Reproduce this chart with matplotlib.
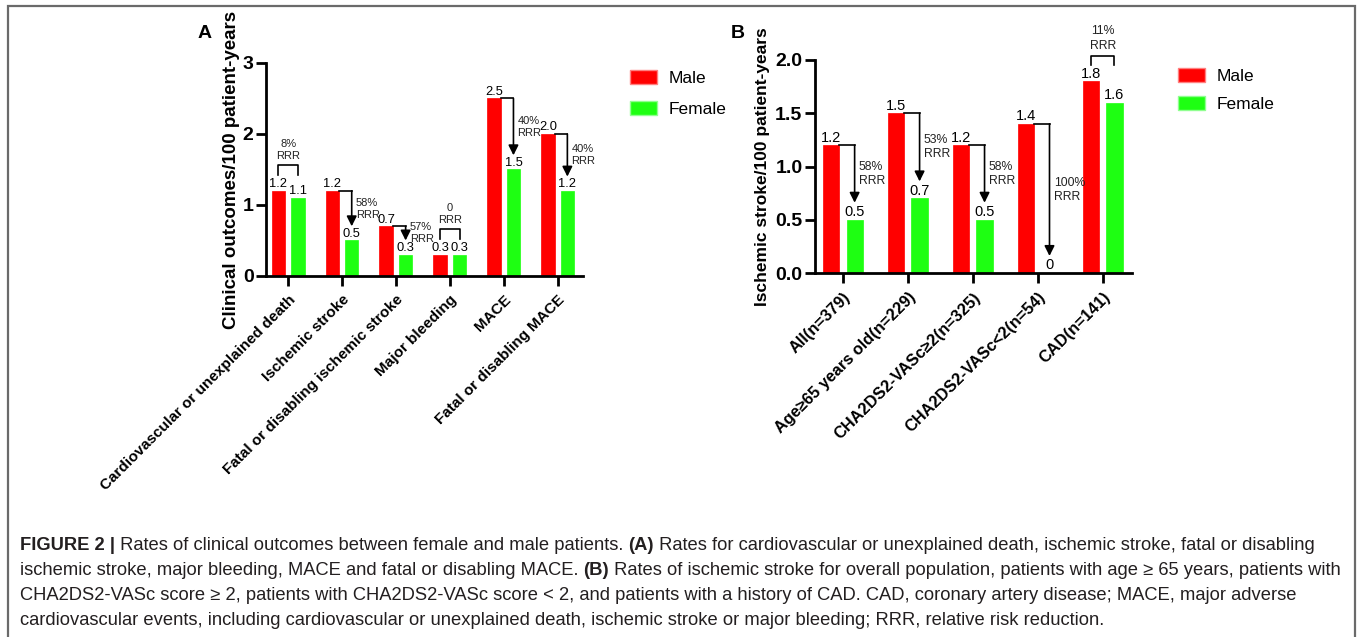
import numpy as np
import matplotlib
matplotlib.use("Agg")
import matplotlib.pyplot as plt
from matplotlib.patches import Rectangle, Patch

plt.rcParams['font.family'] = ['Liberation Sans', 'DejaVu Sans']

# Panel A: clinical outcomes
cats_a = ["Cardiovascular or unexplained death", "Ischemic stroke",
          "Fatal or disabling ischemic stroke", "Major bleeding", "MACE",
          "Fatal or disabling MACE"]
male_a = [1.2, 1.2, 0.7, 0.3, 2.5, 2.0]
female_a = [1.1, 0.5, 0.3, 0.3, 1.5, 1.2]
rrr_a = ["8%", "58%", "57%", "0", "40%", "40%"]
kind_a = ["bracket", "arrow", "arrow", "bracket", "arrow", "arrow"]

# Panel B: ischemic stroke by subgroup
cats_b = ["All(n=379)", "Age≥65 years old(n=229)", "CHA2DS2-VASc≥2(n=325)",
          "CHA2DS2-VASc<2(n=54)", "CAD(n=141)"]
male_b = [1.2, 1.5, 1.2, 1.4, 1.8]
female_b = [0.5, 0.7, 0.5, 0.0, 1.6]
rrr_b = ["58%", "53%", "58%", "100%", "11%"]
kind_b = ["arrow", "arrow", "arrow", "arrow", "bracket"]

RED = "#ff0000"
GREEN = "#1eff12"
W = 1357
H = 637

fig = plt.figure(figsize=(W / 100, H / 100), dpi=100)


def px_axes(x0, x1, ytop, ybot):
    return fig.add_axes([x0 / W, 1 - ybot / H, (x1 - x0) / W, (ybot - ytop) / H])


def fmt(v):
    return "0" if v == 0 else f"{v:.1f}"


def panel(ax, cats, male, female, rrr, kind, ymax, ystep, xlims, vfs, rfs,
          tip_off, br_off, catfs, ylabel, ylfs, ylx):
    x = np.arange(len(cats))
    off_m, off_f, bw = -0.18, 0.18, 0.25
    ax.bar(x + off_m, male, bw, color=RED, edgecolor=RED, lw=0.5, zorder=2)
    ax.bar(x + off_f, female, bw, color=GREEN, edgecolor=GREEN, lw=0.5, zorder=2)
    ax.set_xlim(*xlims)
    ax.set_ylim(0, ymax)
    yt = np.arange(0, ymax + 1e-9, ystep)
    ax.set_yticks(yt)
    if ystep < 1:
        ax.set_yticklabels([f"{t:.1f}" for t in yt])
    for s in ["top", "right"]:
        ax.spines[s].set_visible(False)
    for s in ["left", "bottom"]:
        ax.spines[s].set_linewidth(2)
        ax.spines[s].set_zorder(3)
    ax.tick_params(axis="both", width=2, length=7)
    ax.tick_params(axis="x", pad=5)
    ax.tick_params(axis="y", pad=2, labelsize=14)
    for t in ax.get_yticklabels():
        t.set_fontweight("bold")
    ax.set_xticks(x)
    ax.set_xticklabels(cats, rotation=45, ha="right", va="top",
                       rotation_mode="anchor", fontsize=catfs, fontweight="bold")
    ax.set_ylabel(ylabel, fontsize=ylfs, fontweight="bold")
    ax.yaxis.set_label_coords(ylx, 0.5)

    # value labels
    for i in x:
        for off, v in ((off_m, male[i]), (off_f, female[i])):
            ax.annotate(fmt(v), (i + off, v), xytext=(0, 0.5), textcoords="offset points",
                        ha="center", va="bottom", fontsize=vfs)

    # relative risk reduction marks
    for i in x:
        xm, xf = i + off_m, i + off_f
        if kind[i] == "arrow":
            top = male[i]
            tip = female[i] + tip_off
            ax.plot([xm + bw / 2, xf], [top, top], color="k", lw=1.2, zorder=4,
                    clip_on=False)
            ax.annotate("", xy=(xf, tip), xytext=(xf, top),
                        arrowprops=dict(arrowstyle="-|>", color="k", lw=1.2,
                                        mutation_scale=15, shrinkA=0, shrinkB=0))
            ax.annotate(f"{rrr[i]}\nRRR", (xf, (top + tip) / 2), xytext=(3, 0),
                        textcoords="offset points", ha="left", va="center",
                        fontsize=rfs, linespacing=1.25, color="#222222")
        else:
            hi = max(male[i], female[i])
            leg = hi + br_off[0]
            bar_y = hi + br_off[1]
            ax.plot([xm, xm, xf, xf], [leg, bar_y, bar_y, leg], color="k", lw=1.2,
                    zorder=4, clip_on=False)
            ax.annotate(f"{rrr[i]}\nRRR", ((xm + xf) / 2, bar_y), xytext=(0, 3),
                        textcoords="offset points", ha="center", va="bottom",
                        fontsize=rfs, linespacing=1.25, color="#222222",
                        annotation_clip=False)

    handles = [Patch(facecolor=RED, edgecolor="#ff8080"),
               Patch(facecolor=GREEN, edgecolor="#90ff90")]
    return handles


def add_legend(ax, handles, x_px, y_px, spacing):
    ax.legend(handles, ["Male", "Female"], loc="upper left",
              bbox_to_anchor=(x_px / W, 1 - y_px / H), bbox_transform=fig.transFigure,
              frameon=False, borderpad=0, borderaxespad=0, handlelength=1.55,
              handleheight=0.86, labelspacing=spacing, handletextpad=0.65, fontsize=12.5)


ax_a = px_axes(266, 583, 63, 276)
h = panel(ax_a, cats_a, male_a, female_a, rrr_a, kind_a, 3, 1, (-0.41, 5.47),
          9.3, 8, 0.2, (0.22, 0.36), 11, "Clinical outcomes/100 patient-years",
          13.5, -0.082)
add_legend(ax_a, h, 630, 70, 0.85)

ax_b = px_axes(815, 1132, 60, 273)
h = panel(ax_b, cats_b, male_b, female_b, rrr_b, kind_b, 2.0, 0.5, (-0.43, 4.45),
          10.5, 8.8, 0.16, (0.15, 0.24), 11.8, "Ischemic stroke/100 patient-years",
          12.5, -0.142)
add_legend(ax_b, h, 1178, 68, 0.72)

fig.text(205 / W, 1 - 33 / H, "A", fontsize=14, fontweight="bold", ha="center", va="center")
fig.text(738 / W, 1 - 33 / H, "B", fontsize=14, fontweight="bold", ha="center", va="center")

# outer frame, open at the bottom
fig.add_artist(Rectangle((8 / W, -0.05), (1355 - 8) / W, 1.05 - 6.5 / H,
                         transform=fig.transFigure, fill=False, ec="#6a6a6a", lw=1.6))

# caption, written as runs of bold and regular text placed end to end
cap_lines = [
    [("FIGURE 2 |", "bold"), (" Rates of clinical outcomes between female and male patients. ", "normal"),
     ("(A)", "bold"), (" Rates for cardiovascular or unexplained death, ischemic stroke, fatal or disabling", "normal")],
    [("ischemic stroke, major bleeding, MACE and fatal or disabling MACE. ", "normal"), ("(B)", "bold"),
     (" Rates of ischemic stroke for overall population, patients with age ≥ 65 years, patients with", "normal")],
    [("CHA2DS2-VASc score ≥ 2, patients with CHA2DS2-VASc score < 2, and patients with a history of CAD. "
      "CAD, coronary artery disease; MACE, major adverse", "normal")],
    [("cardiovascular events, including cardiovascular or unexplained death, ischemic stroke or major "
      "bleeding; RRR, relative risk reduction.", "normal")],
]
cap_y = [550, 575, 600, 625]
renderer = fig.canvas.get_renderer()
for line, yy in zip(cap_lines, cap_y):
    x_px = 20
    for txt, wt in line:
        t = fig.text(x_px / W, 1 - yy / H, txt, fontsize=13.25, fontweight=wt,
                     color="#231f20", ha="left", va="baseline")
        x_px += t.get_window_extent(renderer).width

fig.savefig("out.png", dpi=100)
